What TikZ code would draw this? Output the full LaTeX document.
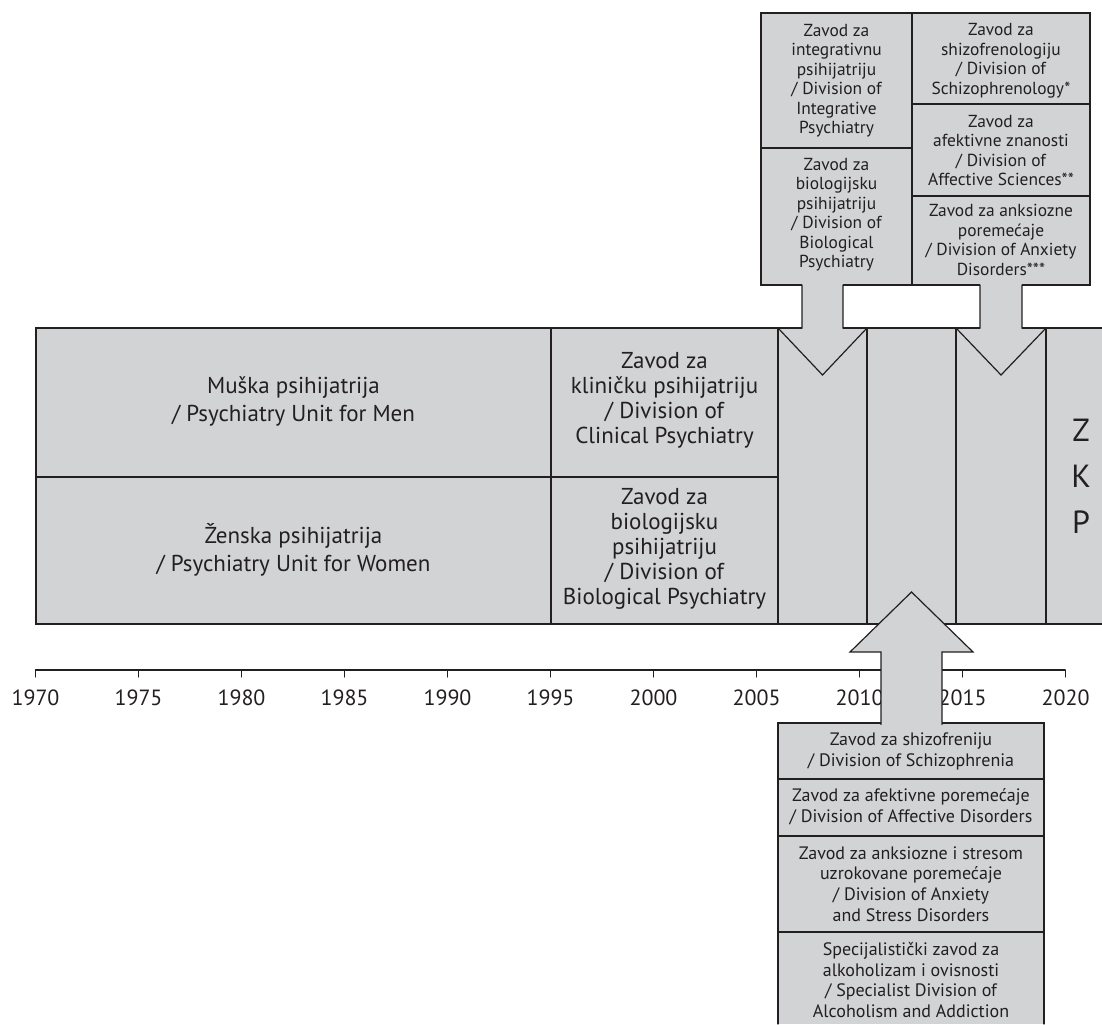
\documentclass[tikz,border=0pt]{standalone}
\usepackage{fontspec}
\setmainfont{PT Sans}
\usepackage{tikz}
\definecolor{boxgray}{RGB}{209,211,212}
\definecolor{ink}{RGB}{35,31,32}
\tikzset{line/.style={draw=ink,line width=0.6pt},
  unitbox/.style={fill=boxgray,draw=ink,line width=0.6pt},
  bigtext/.style={align=center,text=ink,font=\fontsize{11.5}{12.5}\selectfont},
  mentext/.style={align=center,text=ink,font=\fontsize{11.5}{14}\selectfont},
  toptext/.style={align=center,text=ink,font=\fontsize{8.7}{9.75}\selectfont},
  lowtext/.style={align=center,text=ink,font=\fontsize{9}{10.3}\selectfont},
  yeartext/.style={text=ink,font=\fontsize{11}{13}\selectfont},
  zkptext/.style={align=center,text=ink,font=\fontsize{16}{23}\selectfont}}

\begin{document}
\begin{tikzpicture}[x=0.5pt,y=-0.5pt,line cap=round]
  \useasboundingbox (0,0) rectangle (1102,1024);

  % main block
  \fill [boxgray] (36,328) rectangle (1102,624);
  \draw [line] (1102,328) -- (36,328) -- (36,624) -- (1102,624);
  \draw [line] (36,477) -- (778,477);
  \foreach \x in {551,778,867,956,1046}
    \draw [line] (\x,328) -- (\x,624);

  \node [mentext] (men) at (293.5,401) {Muška psihijatrija\\/ Psychiatry Unit for Men};
  \node [mentext] (women) at (293.5,550) {Ženska psihijatrija\\/ Psychiatry Unit for Women};
  \node [bigtext] (clinical) at (664.5,400) {Zavod za\\kliničku psihijatriju\\/ Division of\\Clinical Psychiatry};
  \node [bigtext] (biological) at (664.5,549) {Zavod za\\biologijsku\\psihijatriju\\/ Division of\\Biological Psychiatry};
  \node [zkptext] (zkp) at (1081,476) {Z\\K\\P};

  % divisions from 2006 and 2015
  \draw [unitbox] (761,13) rectangle (912,285);
  \draw [unitbox] (912,13) rectangle (1090,285);
  \draw [line] (761,148) -- (912,148);
  \draw [line] (912,104) -- (1090,104);
  \draw [line] (912,196) -- (1090,196);

  \foreach \a/\b/\c/\d in {778/802/843/867,956/980/1022/1046}{
    \fill [boxgray] (\b,284) rectangle (\c,330);
    \draw [line] (\b,285) -- (\b,328) -- (\a,328) -- ({(\a+\d)/2},375) -- (\d,328) -- (\c,328) -- (\c,285);
  }

  \node [toptext] (integrative) at (836.5,80.5) {Zavod za\\integrativnu\\psihijatriju\\/ Division of\\Integrative\\Psychiatry};
  \node [toptext] (biological2) at (836.5,214.5) {Zavod za\\biologijsku\\psihijatriju\\/ Division of\\Biological\\Psychiatry};
  \node [toptext] (schizo) at (1001,60.5) {Zavod za\\shizofrenologiju\\/ Division of\\Schizophrenology*};
  \node [toptext] (affective) at (1001,150.5) {Zavod za\\afektivne znanosti\\/ Division of\\Affective Sciences**};
  \node [toptext] (anxiety) at (1001,240) {Zavod za anksiozne\\poremećaje\\/ Division of Anxiety\\Disorders***};

  % time axis
  \draw [line] (35.5,670) -- (1065,670);
  \foreach \yr in {1970,1975,...,2020}{
    \draw [line] ({35.5+20.6*(\yr-1970)},670) -- ({35.5+20.6*(\yr-1970)},677);
    \node [yeartext] (y\yr) at ({35.5+20.6*(\yr-1970)},698) {\yr};
  }

  % divisions of 2010
  \fill [boxgray] (778,723) rectangle (1044,1024);
  \draw [line] (778,1024) -- (778,723) -- (1044,723) -- (1044,1024);
  \draw [line] (778,779) -- (1044,779);
  \draw [line] (778,836) -- (1044,836);
  \draw [line] (778,932) -- (1044,932);

  \filldraw [fill=boxgray,draw=ink,line width=0.6pt] (881,724.5) -- (881,652) -- (850,652) -- (911.5,592) -- (973,652) -- (942,652) -- (942,724.5);

  \node [lowtext] (schizophrenia) at (911,751.5) {Zavod za shizofreniju\\/ Division of Schizophrenia};
  \node [lowtext] (affdis) at (911,806.5) {Zavod za afektivne poremećaje\\/ Division of Affective Disorders};
  \node [lowtext] (stress) at (911,884) {Zavod za anksiozne i stresom\\uzrokovane poremećaje\\/ Division of Anxiety\\and Stress Disorders};
  \node [lowtext] (alcohol) at (911,980) {Specijalistički zavod za\\alkoholizam i ovisnosti\\/ Specialist Division of\\Alcoholism and Addiction};

\end{tikzpicture}
\end{document}
